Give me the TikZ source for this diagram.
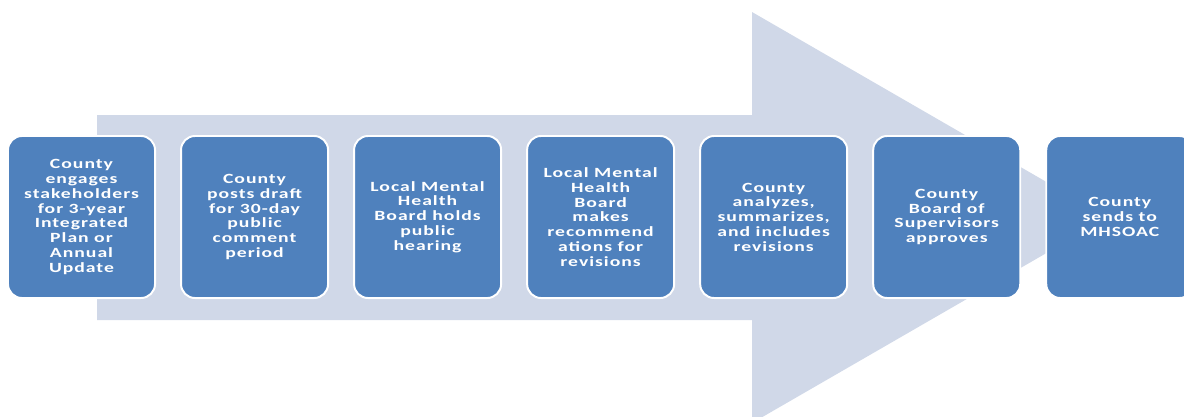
\documentclass[tikz,border=0pt]{standalone}
\usepackage{fontspec}
\setmainfont{Carlito}[FakeStretch=1.4,LetterSpace=7]
\usetikzlibrary{positioning}
\definecolor{arrowgray}{RGB}{208,216,232}
\definecolor{stepblue}{RGB}{79,129,189}

\begin{document}
\begin{tikzpicture}[x=0.025cm,y=-0.025cm,node distance=4.325cm]
  \useasboundingbox (0,0) rectangle (1184,416);
  \clip (0,0) rectangle (1184,416);
  % big arrow behind the steps
  \fill[arrowgray] (97,115) -- (752,115) -- (752,12) -- (1108,217.5)
                   -- (752,423) -- (752,320) -- (97,320) -- cycle;
  \tikzstyle{every node}= [fill=stepblue, draw=white, line width=1.4pt,
      rounded corners=0.35cm, minimum width=3.675cm, minimum height=4.05cm,
      text=white, align=center, inner sep=1pt,
      font=\bfseries\fontsize{10}{10.5}\selectfont]
  \node (1) at (81.5,217) {County\\engages\\stakeholders\\for 3-year\\Integrated\\Plan or\\Annual\\Update};
  \node (2) [right of=1] {County\\posts draft\\for 30-day\\public\\comment\\period};
  \node (3) [right of=2] {Local Mental\\Health\\Board holds\\public\\hearing};
  \node (4) [right of=3] {Local Mental\\Health\\Board\\makes\\recommend\\ations for\\revisions};
  \node (5) [right of=4] {County\\analyzes,\\summarizes,\\and includes\\revisions};
  \node (6) [right of=5] {County\\Board of\\Supervisors\\approves};
  \node (7) [right of=6] {County\\sends to\\MHSOAC};
\end{tikzpicture}
\end{document}
